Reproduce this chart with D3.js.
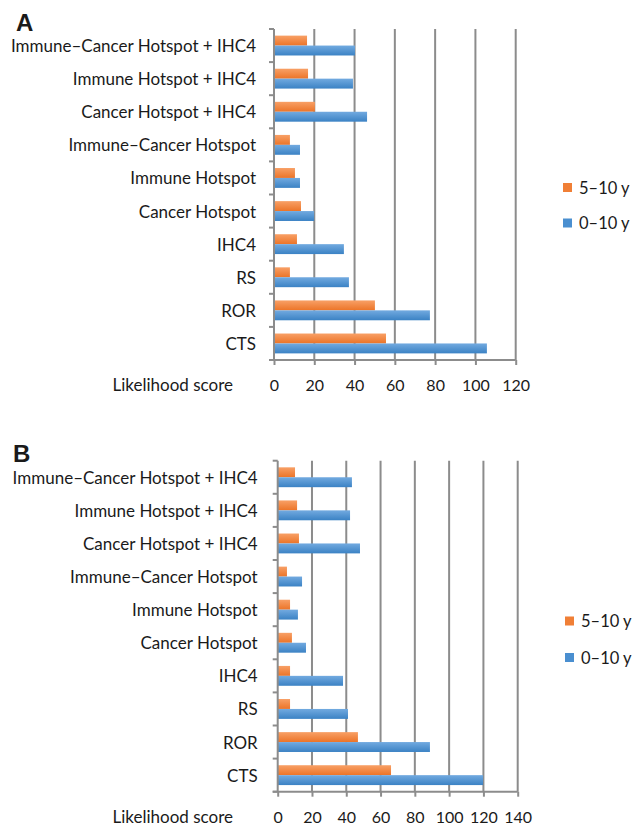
<!DOCTYPE html>
<html>
<head>
<meta charset="utf-8">
<script src="https://cdn.jsdelivr.net/npm/d3@7"></script>
<style>
  html, body { margin: 0; padding: 0; background: #fff; }
  svg { display: block; }
  text { font-family: Lato, "Open Sans", sans-serif; fill: #1a1a1a; }
</style>
</head>
<body>
<svg id="chart" width="633" height="826"></svg>
<script>
const categories = [
  "Immune–Cancer Hotspot + IHC4",
  "Immune Hotspot + IHC4",
  "Cancer Hotspot + IHC4",
  "Immune–Cancer Hotspot",
  "Immune Hotspot",
  "Cancer Hotspot",
  "IHC4",
  "RS",
  "ROR",
  "CTS"
];
const seriesNames = ["5–10 y", "0–10 y"];
const panelA_5to10 = [16.4, 16.9, 20.3, 7.9, 10.4, 13.4, 11.4, 7.9, 50.1, 55.6];
const panelA_0to10 = [40.2, 39.2, 46.2, 12.9, 12.9, 19.9, 34.7, 37.2, 77.4, 105.7];
const panelB_5to10 = [10.1, 11.3, 12.4, 5.4, 7.2, 8.3, 7.2, 7.2, 46.8, 66.1];
const panelB_0to10 = [43.3, 42.2, 48.0, 14.2, 11.8, 16.5, 38.1, 41.0, 88.8, 119.8];
const ticksA = [0, 20, 40, 60, 80, 100, 120];
const ticksB = [0, 20, 40, 60, 80, 100, 120, 140];
const axisTitle = "Likelihood score";

const svg = d3.select("#chart");
const defs = svg.append("defs");

function grad(id, top, bottom) {
  const g = defs.append("linearGradient").attr("id", id)
    .attr("x1", 0).attr("y1", 0).attr("x2", 0).attr("y2", 1);
  g.append("stop").attr("offset", "0%").attr("stop-color", top);
  g.append("stop").attr("offset", "100%").attr("stop-color", bottom);
}
grad("gOrange", "#f8a066", "#ec7428");
grad("gBlue", "#72aae0", "#3b82c4");
const fills = ["url(#gOrange)", "url(#gBlue)"];
const swatch = ["#f07f36", "#4a8fd0"];
const gridColor = "#8c8c8c";

function drawPanel(cfg) {
  const g = svg.append("g");
  const x = d3.scaleLinear().domain([0, cfg.ticks[cfg.ticks.length - 1]]).range([cfg.x0, cfg.x1]);
  const y = d3.scaleBand().domain(categories).range([cfg.top, cfg.bottom]).padding(0);
  const sub = d3.scaleBand().domain(seriesNames).range([y.bandwidth() * 0.2, y.bandwidth() * 0.8]).padding(0);

  g.append("text").attr("x", cfg.letterX).attr("y", cfg.letterY)
    .style("font-family", "Arial, 'Liberation Sans', sans-serif")
    .style("font-weight", "bold").style("font-size", "24px").text(cfg.letter);

  g.selectAll(".grid").data(cfg.ticks.slice(1)).join("line")
    .attr("x1", d => x(d)).attr("x2", d => x(d))
    .attr("y1", cfg.top).attr("y2", cfg.bottom)
    .attr("stroke", gridColor).attr("stroke-width", 2);

  const series = [cfg.s1, cfg.s2];
  series.forEach((vals, si) => {
    g.selectAll(".bar" + si).data(categories.map((c, i) => ({ c, v: vals[i] }))).join("rect")
      .attr("x", x(0))
      .attr("y", d => y(d.c) + sub(seriesNames[si]))
      .attr("width", d => x(d.v) - x(0))
      .attr("height", sub.bandwidth())
      .attr("fill", fills[si]);
  });

  g.append("line").attr("x1", x(0)).attr("x2", x(0)).attr("y1", cfg.top).attr("y2", cfg.bottom)
    .attr("stroke", gridColor).attr("stroke-width", 2);
  const bounds = categories.map(c => y(c)).concat([cfg.bottom]);
  g.selectAll(".ytick").data(bounds).join("line")
    .attr("x1", x(0) - 5).attr("x2", x(0)).attr("y1", d => d).attr("y2", d => d)
    .attr("stroke", gridColor).attr("stroke-width", 2);

  const yAxis = d3.axisLeft(y).tickSize(0).tickPadding(cfg.labelPad);
  const ya = g.append("g").attr("transform", `translate(${x(0)},0)`).call(yAxis);
  ya.select(".domain").remove();
  ya.selectAll("text").style("font-size", cfg.fontSize + "px").style("fill", "#1a1a1a")
    .style("font-family", "Lato, sans-serif")
    .attr("dy", "0.38em");

  g.append("line").attr("x1", x(0) - 5).attr("x2", cfg.x1).attr("y1", cfg.bottom).attr("y2", cfg.bottom)
    .attr("stroke", gridColor).attr("stroke-width", 2);
  const xAxis = d3.axisBottom(x).tickValues(cfg.ticks).tickSize(5).tickSizeOuter(0).tickPadding(14);
  const xa = g.append("g").attr("transform", `translate(0,${cfg.bottom})`).call(xAxis);
  xa.select(".domain").remove();
  xa.selectAll(".tick line").attr("stroke", gridColor).attr("stroke-width", 2);
  xa.selectAll("text").style("font-size", cfg.tickFontSize + "px").style("fill", "#1a1a1a")
    .style("font-family", "Lato, sans-serif")
    .attr("dy", null).attr("y", cfg.tickLabelOffset).attr("dominant-baseline", "central");

  g.append("text").attr("x", cfg.titleRight).attr("y", cfg.bottom + cfg.tickLabelOffset)
    .attr("text-anchor", "end").attr("dominant-baseline", "central")
    .style("font-size", cfg.fontSize + "px").text(axisTitle);

  seriesNames.forEach((n, i) => {
    const ly = cfg.legendY[i];
    g.append("rect").attr("x", cfg.legendX).attr("y", ly - 4.5).attr("width", 9).attr("height", 9)
      .attr("fill", swatch[i]);
    g.append("text").attr("x", cfg.legendX + 16).attr("y", ly)
      .attr("dominant-baseline", "central").style("font-size", cfg.legendFontSize + "px").text(n);
  });
}

drawPanel({
  letter: "A", letterX: 16, letterY: 31,
  s1: panelA_5to10, s2: panelA_0to10, ticks: ticksA,
  x0: 274, x1: 515.7, top: 29, bottom: 360,
  labelPad: 18, fontSize: 17, tickFontSize: 16, legendFontSize: 16.5, tickLabelOffset: 24, titleRight: 233,
  legendX: 563, legendY: [187.5, 223]
});

drawPanel({
  letter: "B", letterX: 13, letterY: 462,
  s1: panelB_5to10, s2: panelB_0to10, ticks: ticksB,
  x0: 277.7, x1: 517.7, top: 460.7, bottom: 791.7,
  labelPad: 20, fontSize: 17, tickFontSize: 16, legendFontSize: 16.5, tickLabelOffset: 24.5, titleRight: 233,
  legendX: 565, legendY: [621, 657.5]
});
</script>
</body>
</html>
